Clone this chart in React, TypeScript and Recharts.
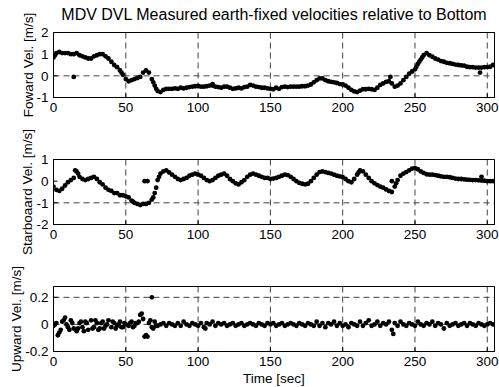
import React from 'react';
import { ScatterChart, Scatter, XAxis, YAxis, CartesianGrid } from 'recharts';

const FONT = '"Liberation Sans", Arial, Helvetica, sans-serif';

// samples are every 2 s, starting at t = 0
const T_START = 0;
const T_STEP = 2;
const timeDomain: [number, number] = [0, 305];
const timeTicks = [0, 50, 100, 150, 200, 250, 300];

const forwardVel = [
  0.85, 1.05, 1.1, 1.05, 1.05, 1.05, 1.0, 1.0, 1.05, 0.95,
  0.9, 0.85, 0.8, 0.8, 0.9, 0.95, 1.0, 1.0, 0.9, 0.8,
  0.65, 0.5, 0.4, 0.25, 0.05, -0.15, -0.25, -0.2, -0.15, -0.1,
  -0.05, 0.15, 0.25, 0.15, -0.15, -0.45, -0.7, -0.75, -0.65, -0.6,
  -0.6, -0.6, -0.58, -0.6, -0.55, -0.58, -0.55, -0.52, -0.5, -0.48,
  -0.47, -0.5, -0.5, -0.48, -0.45, -0.45, -0.5, -0.52, -0.55, -0.5,
  -0.5, -0.55, -0.6, -0.58, -0.55, -0.58, -0.52, -0.5, -0.42, -0.45,
  -0.5, -0.52, -0.55, -0.55, -0.58, -0.6, -0.62, -0.55, -0.6, -0.52,
  -0.5, -0.52, -0.5, -0.5, -0.5, -0.5, -0.48, -0.48, -0.45, -0.4,
  -0.3, -0.2, -0.12, -0.12, -0.2, -0.25, -0.28, -0.3, -0.33, -0.38,
  -0.4, -0.45, -0.55, -0.65, -0.72, -0.75, -0.68, -0.62, -0.62, -0.6,
  -0.62, -0.65, -0.55, -0.42, -0.35, -0.28, -0.25, -0.35, -0.5, -0.45,
  -0.35, -0.2, -0.05, 0.1, 0.2, 0.3, 0.55, 0.75, 0.95, 1.05,
  0.95, 0.88, 0.8, 0.75, 0.68, 0.65, 0.6, 0.58, 0.55, 0.52,
  0.5, 0.48, 0.47, 0.42, 0.4, 0.4, 0.38, 0.38, 0.38, 0.4,
  0.4, 0.42, 0.5,
];
const forwardExtra: [number, number][] = [
  [1, 0.95], [14, -0.05], [110, -0.38], [233, -0.05], [295, 0.15],
  [47, 0.15], [69, -0.3], [71, -0.6], [251, 0.42], [253, 0.65], [255, 0.85],
];

const starboardVel = [
  -0.25, -0.4, -0.45, -0.35, -0.2, -0.05, 0.05, 0.15, 0.45, 0.2,
  0.1, 0.05, 0.1, 0.15, 0.2, 0.1, -0.05, -0.15, -0.3, -0.4,
  -0.45, -0.55, -0.55, -0.65, -0.65, -0.7, -0.75, -0.9, -1.0, -1.05,
  -1.1, -1.05, -1.05, -1.0, -0.85, -0.55, 0.05, 0.35, 0.45, 0.5,
  0.4, 0.3, 0.2, 0.1, 0.05, 0.1, 0.15, 0.25, 0.3, 0.35,
  0.3, 0.25, 0.15, 0.05, 0.0, 0.05, 0.15, 0.25, 0.3, 0.35,
  0.25, 0.1, 0.0, -0.1, -0.15, -0.05, 0.05, 0.2, 0.3, 0.35,
  0.3, 0.25, 0.2, 0.15, 0.15, 0.1, 0.12, 0.15, 0.2, 0.25,
  0.3, 0.28, 0.2, 0.1, 0.0, -0.08, -0.12, -0.15, -0.12, 0.0,
  0.15, 0.3, 0.42, 0.45, 0.42, 0.38, 0.35, 0.3, 0.25, 0.22,
  0.18, 0.1, 0.0, -0.05, 0.1, 0.3, 0.5, 0.45, 0.3, 0.15,
  0.0, -0.1, -0.18, -0.25, -0.3, -0.38, -0.45, -0.5, -0.25, 0.05,
  0.25, 0.35, 0.42, 0.5, 0.58, 0.6, 0.55, 0.45, 0.38, 0.32,
  0.3, 0.3, 0.28, 0.25, 0.22, 0.2, 0.2, 0.18, 0.15, 0.12,
  0.1, 0.1, 0.08, 0.07, 0.06, 0.05, 0.05, 0.04, 0.03, 0.02,
  0.0, 0.0, 0.0,
];
const starboardExtra: [number, number][] = [
  [15, 0.5], [17, 0.35], [63, 0.0], [65, 0.0], [69, -0.75], [71, -0.3],
  [73, 0.2], [234, 0.0], [296, 0.2], [55, -0.95], [211, 0.4], [237, -0.1],
];

const upwardVel = [
  -0.01, 0.01, -0.06, 0.02, 0.05, -0.02, 0.03, -0.03, -0.05, 0.01,
  -0.02, 0.02, -0.04, 0.03, -0.02, 0.01, -0.03, 0.02, -0.01, 0.03,
  -0.02, 0.01, -0.01, 0.02, -0.02, 0.0, -0.01, 0.02, -0.01, 0.01,
  0.07, 0.04, -0.08, 0.01, -0.02, 0.02, -0.01, 0.0, 0.01, -0.01,
  0.01, 0.0, -0.01, 0.01, -0.01, 0.02, 0.0, -0.01, 0.01, 0.0,
  -0.01, 0.01, -0.02, 0.01, 0.0, 0.02, -0.01, 0.01, 0.0, 0.01,
  -0.01, 0.0, 0.01, -0.01, 0.0, 0.01, -0.01, 0.0, 0.01, 0.0,
  -0.01, 0.01, 0.0, -0.01, 0.01, 0.0, 0.01, -0.01, 0.0, 0.01,
  -0.01, 0.0, 0.01, 0.0, -0.01, 0.01, 0.0, -0.01, 0.01, 0.0,
  -0.01, 0.02, -0.01, 0.01, -0.02, 0.01, 0.0, 0.02, -0.01, 0.01,
  -0.01, 0.0, -0.02, 0.01, 0.0, -0.01, 0.02, -0.01, 0.01, 0.03,
  -0.01, 0.0, 0.02, -0.01, 0.01, 0.0, 0.02, -0.04, 0.01, -0.01,
  0.02, 0.0, -0.01, 0.01, 0.0, -0.01, 0.02, 0.0, -0.01, 0.01,
  0.0, 0.02, -0.01, 0.01, 0.0, -0.03, 0.01, -0.01, 0.0, 0.01,
  -0.01, 0.0, 0.01, -0.01, 0.01, 0.0, -0.01, 0.01, 0.0, -0.01,
  0.0, 0.01, 0.0,
];
const upwardExtra: [number, number][] = [
  [1, 0.0], [3, -0.08], [5, -0.04], [7, 0.03], [9, 0.0], [11, -0.04],
  [13, 0.01], [17, -0.03], [19, 0.02], [21, -0.05], [23, 0.01], [27, -0.03],
  [29, 0.03], [31, -0.04], [33, 0.01], [35, -0.03], [37, 0.0], [41, 0.02],
  [43, -0.03], [45, 0.0], [47, -0.02], [49, 0.01], [53, 0.01], [55, -0.02],
  [57, 0.01], [59, 0.02], [61, 0.08], [63, -0.09], [65, -0.09], [67, 0.03],
  [68, 0.2], [69, -0.03], [71, -0.01], [105, -0.03], [235, -0.07],
];

const toPoints = (vals: number[], extra: [number, number][]) => [
  ...vals.map((v, i) => ({ t: T_START + i * T_STEP, v })),
  ...extra.map(([t, v]) => ({ t, v })),
];

const W = 499;
const H = 387;
const PLOT_RIGHT = 494.5;

const dot = (p: any) => <circle cx={p.cx} cy={p.cy} r={2.4} fill="#000" />;
const noDot = () => <g />;

const tickStyle = { fill: '#000', fontSize: 13.5, fontFamily: FONT };

interface PanelProps {
  data: { t: number; v: number }[];
  top: number;
  bottom: number;
  yDomain: [number, number];
  yTicks: number[];
  yLabel: string;
  labelX: number;
  title?: string;
  xLabel?: string;
}

function Panel({ data, top, bottom, yDomain, yTicks, yLabel, labelX, title, xLabel }: PanelProps) {
  const xAxisH = xLabel ? 35 : 23;
  return (
    <div style={{ position: 'absolute', left: 0, top: 0 }}>
      <ScatterChart
        width={W}
        height={H}
        margin={{ top: top - 1, left: 0.5, right: W - PLOT_RIGHT - 1, bottom: H - bottom - xAxisH }}
      >
        <CartesianGrid xAxisId="b" yAxisId="l" stroke="#444" strokeDasharray="6 4" />
        <XAxis
          xAxisId="b"
          dataKey="t"
          type="number"
          domain={timeDomain}
          ticks={timeTicks}
          allowDataOverflow
          height={xAxisH}
          tickSize={-4}
          tickMargin={9}
          stroke="#000"
          tick={tickStyle}
          label={
            xLabel
              ? { value: xLabel, position: 'insideBottom', offset: 3.5, style: { ...tickStyle, textAnchor: 'middle' } }
              : undefined
          }
        />
        <XAxis
          xAxisId="t"
          dataKey="t"
          orientation="top"
          type="number"
          domain={timeDomain}
          ticks={timeTicks}
          allowDataOverflow
          height={1}
          tickSize={-4}
          tick={false}
          stroke="#000"
          label={
            title
              ? { value: title, position: 'top', offset: 11.5, style: { ...tickStyle, fontSize: 16, textAnchor: 'middle' } }
              : undefined
          }
        />
        <YAxis
          yAxisId="l"
          dataKey="v"
          type="number"
          domain={yDomain}
          ticks={yTicks}
          allowDataOverflow
          width={53}
          tickSize={-4}
          tickMargin={9}
          stroke="#000"
          tick={tickStyle}
          label={{
            value: yLabel,
            angle: -90,
            position: 'insideLeft',
            offset: labelX - 0.5,
            style: { ...tickStyle, textAnchor: 'middle' },
          }}
        />
        <YAxis
          yAxisId="r"
          dataKey="v"
          orientation="right"
          type="number"
          domain={yDomain}
          ticks={yTicks}
          allowDataOverflow
          width={1}
          tickSize={-4}
          tick={false}
          stroke="#000"
        />
        <Scatter xAxisId="t" yAxisId="r" data={data} dataKey="v" shape={noDot} isAnimationActive={false} />
        <Scatter xAxisId="b" yAxisId="l" data={data} dataKey="v" shape={dot} isAnimationActive={false} />
      </ScatterChart>
    </div>
  );
}

export default function App() {
  return (
    <div style={{ position: 'absolute', left: 0, top: 0, width: W, height: H, background: '#fff', fontFamily: FONT }}>
      <Panel
        data={toPoints(forwardVel, forwardExtra)}
        top={32.5}
        bottom={97.5}
        yDomain={[-1, 2]}
        yTicks={[-1, 0, 1, 2]}
        yLabel="Foward Vel. [m/s]"
        labelX={28}
        title="MDV DVL Measured earth-fixed velocities relative to Bottom"
      />
      <Panel
        data={toPoints(starboardVel, starboardExtra)}
        top={159.5}
        bottom={224.5}
        yDomain={[-2, 1]}
        yTicks={[-2, -1, 0, 1]}
        yLabel="Starboaard Vel. [m/s]"
        labelX={27}
      />
      <Panel
        data={toPoints(upwardVel, upwardExtra)}
        top={286.5}
        bottom={351.5}
        yDomain={[-0.2, 0.28]}
        yTicks={[-0.2, 0, 0.2]}
        yLabel="Upward Vel. [m/s]"
        labelX={16}
        xLabel="Time [sec]"
      />
    </div>
  );
}
